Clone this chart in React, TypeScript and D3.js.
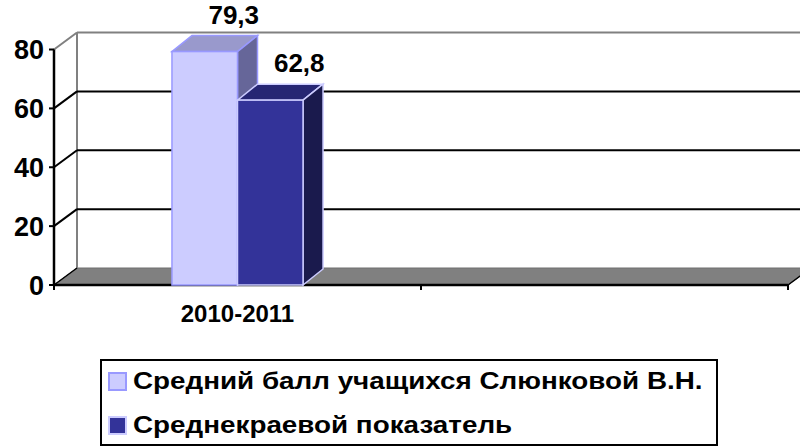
import React from "react";
import * as d3 from "d3";

const categories = ["2010-2011", ""];
const seriesNames = ["Средний балл учащихся Слюнковой В.Н.", "Среднекраевой показатель"];
const seriesValues = [[79.3], [62.8]];
const valueLabels = ["79,3", "62,8"];
const yTicks = [0, 20, 40, 60, 80];

const FONT = "'Liberation Sans', Arial, sans-serif";
const front = { fill: ["#CCCCFF", "#333399"], top: ["#9999CC", "#262673"], side: ["#666699", "#1A1A4D"], stroke: ["#9999FF", "#CCCCFF"] };

export default function App() {
  const W = 800, H = 448;
  const x0 = d3.scaleBand<string>().domain(categories).range([54, 788]).padding(0);
  const x1 = d3.scaleBand<string>().domain(seriesNames).range([0, x0.bandwidth()]).paddingInner(0).paddingOuter(1.8);
  const y = d3.scaleLinear().domain([0, 80]).range([285, 49.5]);
  const DX = 23, DY = -17; // wall depth
  const bdx = 20, bdy = -16; // bar depth
  const xl = 54, xr = 788;

  return (
    <svg width={W} height={H} style={{ position: "absolute", left: 0, top: 0 }} viewBox={`0 0 ${W} ${H}`}>
      <rect x={0} y={0} width={W} height={H} fill="#fff" />
      {/* floor */}
      <polygon points={`${xl},${y(0)} ${xr},${y(0)} ${xr + DX},${y(0) + DY} ${xl + DX},${y(0) + DY}`} fill="#808080" stroke="#6e6e6e" strokeWidth={1} />
      {/* back wall left edge */}
      <line x1={xl + DX} x2={xl + DX} y1={y(80) + DY} y2={y(0) + DY} stroke="#808080" strokeWidth={2} />
      {/* gridlines */}
      {yTicks.filter(t => t > 0).map(t => (
        <g key={t}>
          <line x1={xl} y1={y(t)} x2={xl + DX} y2={y(t) + DY} stroke={t === 80 ? "#808080" : "#000"} strokeWidth={2} />
          <line x1={xl + DX} y1={y(t) + DY} x2={W + 20} y2={y(t) + DY} stroke={t === 80 ? "#808080" : "#000"} strokeWidth={2} />
        </g>
      ))}
      {/* floor front edge */}
      <line x1={xl} y1={y(0)} x2={xr} y2={y(0)} stroke="#000" strokeWidth={2.5} />
      <line x1={xl} y1={y(0)} x2={xl + DX} y2={y(0) + DY} stroke="#000" strokeWidth={1.5} />
      <line x1={xr} y1={y(0)} x2={xr + DX} y2={y(0) + DY} stroke="#000" strokeWidth={1.5} />
      {/* x ticks */}
      {[xl, ...categories.map(c => (x0(c) as number) + x0.bandwidth())].map((tx, i) => (
        <line key={i} x1={tx} x2={tx} y1={y(0)} y2={y(0) + 5} stroke="#000" strokeWidth={2} />
      ))}
      {/* y axis */}
      <line x1={xl} x2={xl} y1={y(80)} y2={y(0)} stroke="#000" strokeWidth={2.5} />
      {yTicks.map(t => (
        <g key={t}>
          <line x1={xl - 5} x2={xl} y1={y(t)} y2={y(t)} stroke="#000" strokeWidth={2} />
          <text x={44} y={y(t) + 9.5} textAnchor="end" fontFamily={FONT} fontWeight="bold" fontSize={27}>{t}</text>
        </g>
      ))}
      {/* bars */}
      {seriesNames.map((s, si) =>
        categories.slice(0, 1).map((c, ci) => {
          const v = seriesValues[si][ci];
          const bx = (x0(c) as number) + (x1(s) as number);
          const bw = x1.bandwidth();
          const yt = y(v), yb = y(0);
          return (
            <g key={s + c}>
              <polygon points={`${bx},${yt} ${bx + bw},${yt} ${bx + bw + bdx},${yt + bdy} ${bx + bdx},${yt + bdy}`} fill={front.top[si]} stroke={front.stroke[si]} strokeWidth={1.5} />
              <polygon points={`${bx + bw},${yt} ${bx + bw + bdx},${yt + bdy} ${bx + bw + bdx},${yb + bdy} ${bx + bw},${yb}`} fill={front.side[si]} stroke={front.stroke[si]} strokeWidth={1.5} />
              <rect x={bx} y={yt} width={bw} height={yb - yt} fill={front.fill[si]} stroke={front.stroke[si]} strokeWidth={1.5} />
              <text x={bx + bw / 2 + 29} y={yt - 28} textAnchor="middle" fontFamily={FONT} fontWeight="bold" fontSize={26}>{valueLabels[si]}</text>
            </g>
          );
        })
      )}
      {/* category labels */}
      {categories.map(c => (
        <text key={c} x={(x0(c) as number) + x0.bandwidth() / 2} y={322} textAnchor="middle" fontFamily={FONT} fontWeight="bold" fontSize={24}>{c}</text>
      ))}
      {/* legend */}
      <rect x={101} y={360} width={616} height={85} fill="#fff" stroke="#000" strokeWidth={2} />
      {seriesNames.map((s, i) => (
        <g key={s} transform={`translate(0, ${i * 44})`}>
          <rect x={109} y={373} width={17} height={17} fill={front.fill[i]} stroke={front.stroke[i]} strokeWidth={2} />
          <text transform="translate(133,389) scale(1.21,1)" fontFamily={FONT} fontWeight="bold" fontSize={23}>{s}</text>
        </g>
      ))}
    </svg>
  );
}
